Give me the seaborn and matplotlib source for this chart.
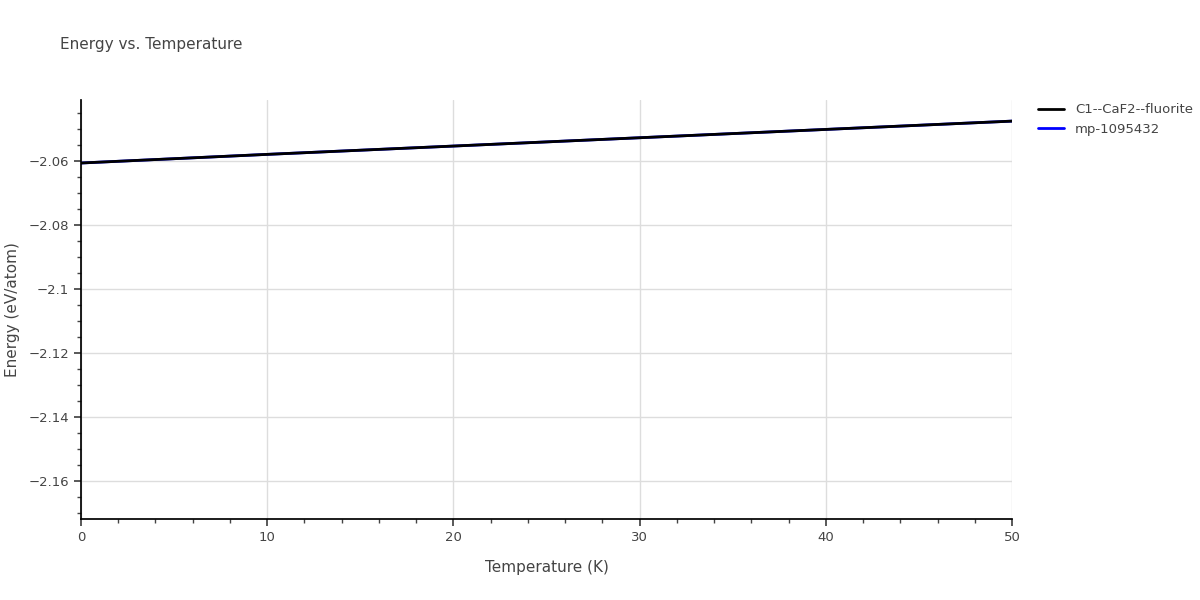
import matplotlib
matplotlib.use("Agg")
import matplotlib.pyplot as plt
import seaborn as sns
import pandas as pd
from matplotlib.ticker import MultipleLocator, FuncFormatter

temps = [0, 10, 20, 30, 40, 50]
energy_fluorite = [-2.0606, -2.0579, -2.0553, -2.0527, -2.0501, -2.0475]
energy_mp = [-2.0606, -2.0579, -2.0553, -2.0527, -2.0501, -2.0475]

df = pd.concat([
    pd.DataFrame({"T": temps, "E": energy_mp, "s": "mp-1095432"}),
    pd.DataFrame({"T": temps, "E": energy_fluorite, "s": "C1--CaF2--fluorite"}),
])

sns.set_theme(style="white")
plt.rcParams['font.family'] = ['DejaVu Sans']
fig = plt.figure(figsize=(12, 6), dpi=100)
ax = fig.add_axes([81/1200, 81/600, 931/1200, 419/600])
sns.lineplot(data=df, x="T", y="E", hue="s", hue_order=["mp-1095432", "C1--CaF2--fluorite"],
             palette={"mp-1095432": "blue", "C1--CaF2--fluorite": "black"}, linewidth=2, ax=ax)
ax.set_xlim(0, 50)
ax.set_ylim(-2.1719, -2.0409)
ax.xaxis.set_major_locator(MultipleLocator(10))
ax.xaxis.set_minor_locator(MultipleLocator(2))
ax.yaxis.set_major_locator(MultipleLocator(0.02))
ax.yaxis.set_minor_locator(MultipleLocator(0.005))
ax.yaxis.set_major_formatter(FuncFormatter(lambda v, p: f"{v:g}".replace("-", "\u2212")))
ax.grid(True, which="major", color="#dddddd", linewidth=1)
for s in ["top", "right"]:
    ax.spines[s].set_visible(False)
for s in ["left", "bottom"]:
    ax.spines[s].set_color("black")
ax.tick_params(which="both", direction="out", colors="#444444", labelcolor="#444444", labelsize=9.5)
ax.tick_params(which="major", length=5, left=True, bottom=True)
ax.tick_params(which="minor", length=3, left=True, bottom=True)
ax.set_xlabel("Temperature (K)", color="#444444", fontsize=11, labelpad=12)
ax.set_ylabel("Energy (eV/atom)", color="#444444", fontsize=11, labelpad=6)
fig.text(60/1200, 1-45/600, "Energy vs. Temperature", fontsize=11, color="#444444", va="center")
h, l = ax.get_legend_handles_labels()
ax.legend([h[1], h[0]], [l[1], l[0]], loc="upper left", bbox_to_anchor=(1.015, 1.02),
          frameon=False, fontsize=9.5, labelcolor="#444444", handlelength=2)
fig.savefig("out.png", dpi=100)
